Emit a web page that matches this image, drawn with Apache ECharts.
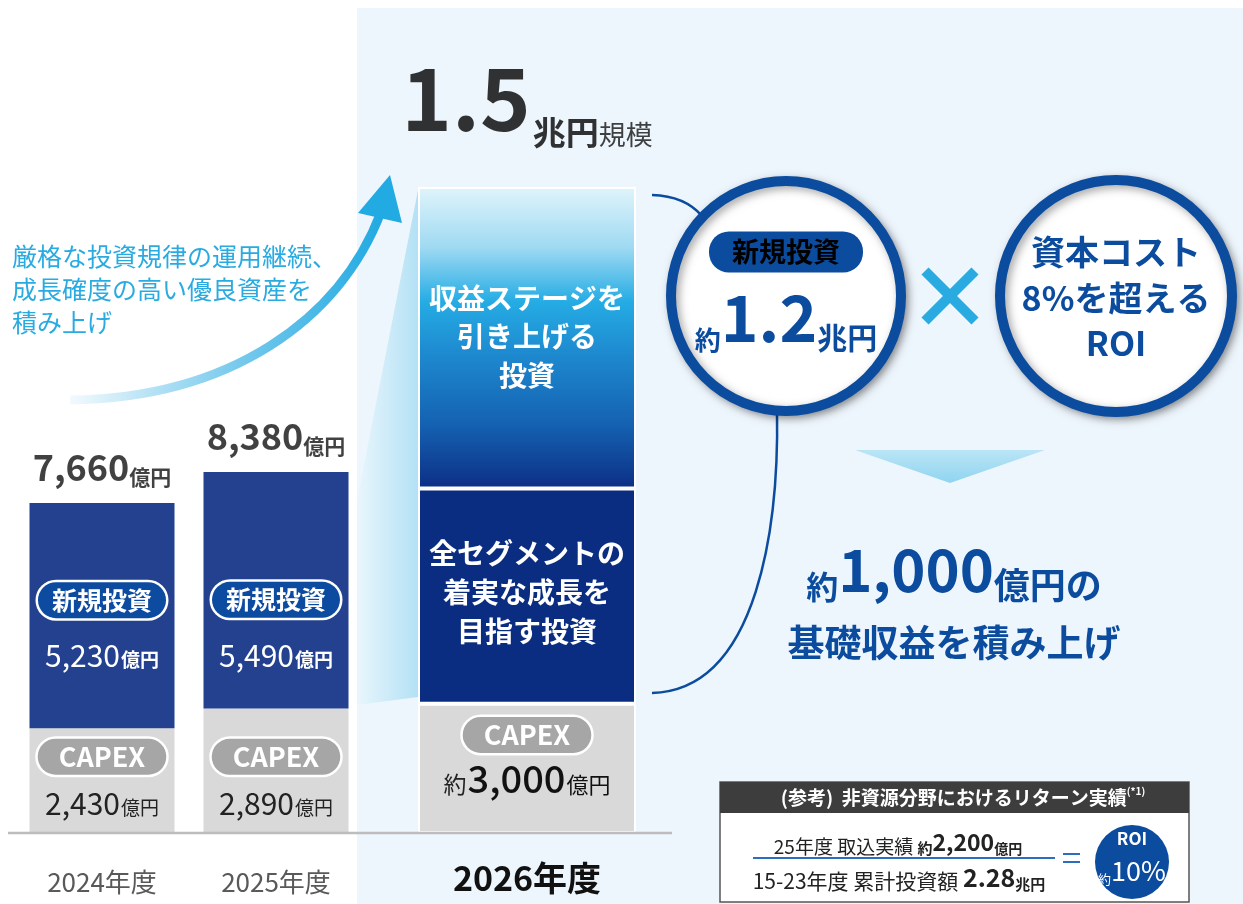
<!DOCTYPE html>
<html>
<head>
<meta charset="utf-8">
<script src="https://cdn.jsdelivr.net/npm/echarts@6/dist/echarts.min.js"></script>
<style>
  html, body { margin: 0; padding: 0; background: #fff; }
  #main { width: 1243px; height: 904px; }
</style>
</head>
<body>
<div id="main"></div>
<script>
// 年度
const years = ['2024年度', '2025年度'];
const year26 = ['2026年度'];
// CAPEX（億円）
const capex = [2430, 2890];
const capex26 = [3000];
// 新規投資（億円）
const newInvest = [5230, 5490];
// 2026年度 新規投資の内訳（億円）
const growthInvest26 = [5000]; // 全セグメントの着実な成長を目指す投資
const stageInvest26 = [7000];  // 収益ステージを引き上げる投資
const yMax = 15000;

const fontJP = '"Noto Sans CJK JP", "Noto Sans", sans-serif';
const navy = '#0b4c9f';
const fmt = v => v.toLocaleString('en-US');
const totals = capex.map((v, i) => v + newInvest[i]);
const totals26 = capex26.map((v, i) => v + growthInvest26[i] + stageInvest26[i]);

// ラベルの縦位置の微調整(px)
const newLabelOffset = [24, 49];
const capexLabelOffset = [7, 17];

// 小さい文字を大きい数字のベースラインに揃える
const baseLH = (lh, big, small) => lh - 2 * 0.38 * (big - small);
const basePad = (big, small) => [2 * 0.38 * (big - small), 0, 0, 1];

function pillStyle(bg, size, pad) {
  return {
    color: '#fff', fontSize: size, fontWeight: 'bold', fontFamily: fontJP,
    backgroundColor: bg, borderColor: '#fff', borderWidth: 2.5, borderRadius: 19,
    height: 32, lineHeight: 32, padding: [2, pad]
  };
}
function numRich(color, numSize, unitSize, lh, unitBold, numWeight) {
  return {
    num: { color: color, fontSize: numSize, fontFamily: fontJP, fontWeight: numWeight || 'normal', lineHeight: lh },
    unit: { color: color, fontSize: unitSize, fontFamily: fontJP, fontWeight: unitBold ? 'bold' : 'normal', padding: basePad(numSize, unitSize) }
  };
}

const chart = echarts.init(document.getElementById('main'));

const stageGradient = new echarts.graphic.LinearGradient(0, 0, 0, 1, [
  { offset: 0, color: '#e0f4fb' },
  { offset: 0.2, color: '#9fdaf2' },
  { offset: 0.38, color: '#25ace4' },
  { offset: 0.55, color: '#1e8ad0' },
  { offset: 0.78, color: '#1563b3' },
  { offset: 1, color: '#0c2f85' }
]);

let option = {
  animation: false,
  backgroundColor: '#fff',
  textStyle: { fontFamily: fontJP },
  grid: [
    { left: 15, width: 348, top: 187, height: 646 },
    { left: 418, width: 218, top: 187, height: 646 }
  ],
  xAxis: [
    {
      type: 'category', gridIndex: 0, data: years,
      axisLine: { show: false }, axisTick: { show: false },
      axisLabel: { color: '#595959', fontSize: 26, margin: 36, fontFamily: fontJP }
    },
    {
      type: 'category', gridIndex: 1, data: year26,
      axisLine: { show: false }, axisTick: { show: false },
      axisLabel: { color: '#111', fontSize: 34, fontWeight: 'bold', margin: 28, fontFamily: fontJP }
    }
  ],
  yAxis: [
    { type: 'value', gridIndex: 0, min: 0, max: yMax, show: false },
    { type: 'value', gridIndex: 1, min: 0, max: yMax, show: false }
  ],
  series: [
    // 2024・2025 CAPEX
    {
      type: 'bar', stack: 'a', xAxisIndex: 0, yAxisIndex: 0, barWidth: 145,
      itemStyle: { color: '#d9d9d9' },
      data: capex.map((v, i) => ({ value: v, label: { offset: [0, capexLabelOffset[i]] } })),
      label: {
        show: true, position: 'inside',
        formatter: p => '{pill|CAPEX}\n{num|' + fmt(p.value) + '}{unit|億円}',
        rich: Object.assign({ pill: pillStyle('#a6a6a6', 27, 21) }, numRich('#222', 30, 19, 62, false))
      }
    },
    // 2024・2025 新規投資
    {
      type: 'bar', stack: 'a', xAxisIndex: 0, yAxisIndex: 0, barWidth: 145,
      itemStyle: { color: '#23418f' },
      data: newInvest.map((v, i) => ({ value: v, label: { offset: [0, newLabelOffset[i]] } })),
      label: {
        show: true, position: 'inside',
        formatter: p => '{pill|新規投資}\n{num|' + fmt(p.value) + '}{unit|億円}',
        rich: Object.assign({ pill: pillStyle('#0d4ba0', 25, 14) }, numRich('#fff', 30, 19, 79, true))
      }
    },
    // 合計ラベル
    {
      type: 'scatter', xAxisIndex: 0, yAxisIndex: 0, data: totals,
      symbolSize: 1, itemStyle: { color: 'rgba(0,0,0,0)' }, silent: true,
      label: {
        show: true, position: 'top', distance: 15,
        formatter: p => '{n|' + fmt(p.value) + '}{u|億円}',
        rich: {
          n: { fontSize: 36, fontWeight: 'bold', color: '#111', fontFamily: fontJP, lineHeight: 40 },
          u: { fontSize: 21, fontWeight: 'bold', color: '#111', fontFamily: fontJP, verticalAlign: 'bottom', lineHeight: baseLH(40, 36, 21) }
        }
      }
    },
    // 2026 CAPEX
    {
      type: 'bar', stack: 'b', xAxisIndex: 1, yAxisIndex: 1, barWidth: 218,
      itemStyle: { color: '#d9d9d9', borderColor: '#fff', borderWidth: 2 },
      data: capex26,
      label: {
        show: true, position: 'inside', offset: [0, -6],
        formatter: p => '{pill|CAPEX}\n{pre|約}{num|' + fmt(p.value) + '}{unit|億円}',
        rich: Object.assign({
          pill: pillStyle('#a6a6a6', 27, 21),
          pre: { color: '#222', fontSize: 23, fontFamily: fontJP, padding: [2 * 0.38 * 15, 1, 0, 0] }
        }, numRich('#111', 38, 22, 55, false, 500))
      }
    },
    // 2026 全セグメントの着実な成長を目指す投資
    {
      type: 'bar', stack: 'b', xAxisIndex: 1, yAxisIndex: 1, barWidth: 218,
      itemStyle: { color: '#0a2d82', borderColor: '#fff', borderWidth: 2 },
      data: growthInvest26,
      label: {
        show: true, position: 'inside', offset: [0, -4],
        formatter: '全セグメントの\n着実な成長を\n目指す投資',
        color: '#fff', fontSize: 28, fontWeight: 'bold', lineHeight: 39, fontFamily: fontJP
      }
    },
    // 2026 収益ステージを引き上げる投資
    {
      type: 'bar', stack: 'b', xAxisIndex: 1, yAxisIndex: 1, barWidth: 218,
      itemStyle: { color: stageGradient, borderColor: '#fff', borderWidth: 2 },
      data: stageInvest26,
      label: {
        show: true, position: 'inside', offset: [0, -1],
        formatter: '収益ステージを\n引き上げる\n投資',
        color: '#fff', fontSize: 28, fontWeight: 'bold', lineHeight: 38.5, fontFamily: fontJP
      }
    },
    // 2026 合計
    {
      type: 'scatter', xAxisIndex: 1, yAxisIndex: 1, data: totals26,
      symbolSize: 1, itemStyle: { color: 'rgba(0,0,0,0)' }, silent: true,
      label: {
        show: true, position: 'top', distance: 38,
        formatter: p => '{n|' + (p.value / 10000) + '}{u|兆円}{r|規模}',
        rich: {
          n: { fontSize: 86, fontWeight: 'bold', color: '#000', fontFamily: fontJP, lineHeight: 100 },
          u: { fontSize: 33, fontWeight: 'bold', color: '#000', fontFamily: fontJP, verticalAlign: 'bottom', lineHeight: baseLH(100, 86, 33), padding: [0, 0, 0, 2] },
          r: { fontSize: 27, color: '#111', fontFamily: fontJP, verticalAlign: 'bottom', lineHeight: baseLH(100, 86, 27) }
        }
      }
    }
  ],
  graphic: {
    elements: [
      // 背景パネル
      { type: 'rect', z: -10, shape: { x: 357, y: 8, width: 886, height: 896 }, style: { fill: '#eef6fd' } },
      // 2025→2026 の帯
      {
        type: 'polygon', z: -5,
        shape: { points: [[357, 500], [418, 190], [418, 697], [357, 705]] },
        style: {
          fill: new echarts.graphic.LinearGradient(357, 0, 418, 0, [
            { offset: 0, color: '#e9f6fc' }, { offset: 1, color: '#b3e1f5' }
          ], true)
        }
      },
      // 基準線
      { type: 'line', z: 50, shape: { x1: 8, y1: 833, x2: 672, y2: 833 }, style: { stroke: '#bdbdbd', lineWidth: 2.5 } },
      // 上昇の矢印
      {
        type: 'bezierCurve', z: 5,
        shape: { x1: 70, y1: 400, cpx1: 230, cpy1: 398, cpx2: 340, cpy2: 320, x2: 381, y2: 212 },
        style: {
          fill: null, lineWidth: 9,
          stroke: new echarts.graphic.LinearGradient(70, 0, 381, 0, [
            { offset: 0, color: 'rgba(41,171,226,0.06)' },
            { offset: 0.5, color: 'rgba(41,171,226,0.6)' },
            { offset: 1, color: '#22aae2' }
          ], true)
        }
      },
      { type: 'polygon', z: 5, shape: { points: [[390, 175], [358, 213], [402, 223]] }, style: { fill: '#22aae2' } },
      {
        type: 'text', z: 5,
        style: {
          x: 12, y: 240, text: '厳格な投資規律の運用継続、\n成長確度の高い優良資産を\n積み上げ',
          fill: '#29abe2', fontSize: 25, fontFamily: fontJP, lineHeight: 33, verticalAlign: 'top'
        }
      },
      // つなぎの線
      {
        type: 'bezierCurve', z: 5,
        shape: { x1: 652, y1: 195, cpx1: 685, cpy1: 196, x2: 702, y2: 216 },
        style: { fill: null, stroke: navy, lineWidth: 2.5 }
      },
      {
        type: 'bezierCurve', z: 5,
        shape: { x1: 777, y1: 410, cpx1: 779, cpy1: 520, cpx2: 760, cpy2: 690, x2: 652, y2: 693 },
        style: { fill: null, stroke: navy, lineWidth: 2.5 }
      },
      // 円
      {
        type: 'circle', z: 10, shape: { cx: 786, cy: 296, r: 115 },
        style: { fill: '#fff', stroke: navy, lineWidth: 10, shadowBlur: 8, shadowColor: 'rgba(0,0,0,0.35)', shadowOffsetX: 3, shadowOffsetY: 3 }
      },
      {
        type: 'circle', z: 10, shape: { cx: 1116, cy: 296, r: 116 },
        style: { fill: '#fff', stroke: navy, lineWidth: 10, shadowBlur: 8, shadowColor: 'rgba(0,0,0,0.35)', shadowOffsetX: 3, shadowOffsetY: 3 }
      },
      {
        type: 'text', z: 12,
        style: {
          x: 786, y: 252, text: '{p|新規投資}', align: 'center', verticalAlign: 'middle',
          rich: { p: { backgroundColor: navy, color: '#fff', fontSize: 27, fontWeight: 'bold', fontFamily: fontJP, borderRadius: 20, padding: [5, 23], height: 31, lineHeight: 31 } }
        }
      },
      {
        type: 'text', z: 12,
        style: {
          x: 786, y: 318, text: '{a|約}{b|1.2}{c|兆円}', align: 'center', verticalAlign: 'middle',
          rich: {
            a: { fontSize: 26, fontWeight: 'bold', fill: navy, fontFamily: fontJP, verticalAlign: 'bottom', lineHeight: baseLH(70, 64, 26) },
            b: { fontSize: 64, fontWeight: 'bold', fill: navy, fontFamily: fontJP, lineHeight: 70 },
            c: { fontSize: 30, fontWeight: 'bold', fill: navy, fontFamily: fontJP, verticalAlign: 'bottom', lineHeight: baseLH(70, 64, 30) }
          }
        }
      },
      {
        type: 'text', z: 12,
        style: {
          x: 1116, y: 298, text: '資本コスト\n8%を超える\nROI', align: 'center', verticalAlign: 'middle',
          fill: navy, fontSize: 34, fontWeight: 'bold', fontFamily: fontJP, lineHeight: 45.5
        }
      },
      // ×
      { type: 'line', z: 12, shape: { x1: 925, y1: 271, x2: 975, y2: 321 }, style: { stroke: '#29abe2', lineWidth: 10 } },
      { type: 'line', z: 12, shape: { x1: 975, y1: 271, x2: 925, y2: 321 }, style: { stroke: '#29abe2', lineWidth: 10 } },
      // 下向き三角
      {
        type: 'polygon', z: 5, shape: { points: [[855, 450], [1045, 450], [950, 483]] },
        style: {
          fill: new echarts.graphic.LinearGradient(0, 450, 0, 483, [
            { offset: 0, color: '#bae5f6' }, { offset: 1, color: '#8fd4f0' }
          ], true)
        }
      },
      {
        type: 'text', z: 12,
        style: {
          x: 954, y: 570, text: '{a|約}{b|1,000}{c|億円の}', align: 'center', verticalAlign: 'middle',
          rich: {
            a: { fontSize: 32, fontWeight: 'bold', fill: navy, fontFamily: fontJP, verticalAlign: 'bottom', lineHeight: baseLH(66, 58, 32) },
            b: { fontSize: 58, fontWeight: 'bold', fill: navy, fontFamily: fontJP, lineHeight: 66 },
            c: { fontSize: 36, fontWeight: 'bold', fill: navy, fontFamily: fontJP, verticalAlign: 'bottom', lineHeight: baseLH(66, 58, 36) }
          }
        }
      },
      {
        type: 'text', z: 12,
        style: {
          x: 954, y: 643, text: '基礎収益を積み上げ', align: 'center', verticalAlign: 'middle',
          fill: navy, fontSize: 37, fontWeight: 'bold', fontFamily: fontJP
        }
      },
      // 参考ボックス
      { type: 'rect', z: 12, shape: { x: 720, y: 782, width: 469, height: 120 }, style: { fill: '#fff', stroke: '#555', lineWidth: 1.5 } },
      { type: 'rect', z: 13, shape: { x: 720, y: 782, width: 469, height: 31 }, style: { fill: '#3d3d3d' } },
      {
        type: 'text', z: 14,
        style: {
          x: 963, y: 798, text: '{a|(参考)  非資源分野におけるリターン実績}{s|(*1)}', align: 'center', verticalAlign: 'middle',
          rich: {
            a: { fontSize: 19, fontWeight: 'bold', fill: '#fff', fontFamily: fontJP, lineHeight: 24 },
            s: { fontSize: 10, fontWeight: 'bold', fill: '#fff', fontFamily: fontJP, verticalAlign: 'top', lineHeight: 14 }
          }
        }
      },
      {
        type: 'text', z: 14,
        style: {
          x: 898, y: 842, text: '{a|25年度 取込実績 }{b|約}{c|2,200}{d|億円}', align: 'center', verticalAlign: 'middle',
          rich: {
            a: { fontSize: 19, fill: '#222', fontFamily: fontJP, verticalAlign: 'bottom', lineHeight: baseLH(28, 23, 19) },
            b: { fontSize: 15, fontWeight: 'bold', fill: '#222', fontFamily: fontJP, verticalAlign: 'bottom', lineHeight: baseLH(28, 23, 15) },
            c: { fontSize: 23, fontWeight: 'bold', fill: '#222', fontFamily: fontJP, lineHeight: 28 },
            d: { fontSize: 14, fontWeight: 'bold', fill: '#222', fontFamily: fontJP, verticalAlign: 'bottom', lineHeight: baseLH(28, 23, 14) }
          }
        }
      },
      { type: 'line', z: 14, shape: { x1: 753, y1: 858, x2: 1055, y2: 858 }, style: { stroke: '#2a6ebf', lineWidth: 2 } },
      {
        type: 'text', z: 14,
        style: {
          x: 899, y: 877, text: '{a|15-23年度 累計投資額 }{c|2.28}{d|兆円}', align: 'center', verticalAlign: 'middle',
          rich: {
            a: { fontSize: 21, fill: '#222', fontFamily: fontJP, verticalAlign: 'bottom', lineHeight: baseLH(30, 25, 21) },
            c: { fontSize: 25, fontWeight: 'bold', fill: '#222', fontFamily: fontJP, lineHeight: 30 },
            d: { fontSize: 15, fontWeight: 'bold', fill: '#222', fontFamily: fontJP, verticalAlign: 'bottom', lineHeight: baseLH(30, 25, 15) }
          }
        }
      },
      { type: 'line', z: 14, shape: { x1: 1063, y1: 854, x2: 1080, y2: 854 }, style: { stroke: '#2a6ebf', lineWidth: 2 } },
      { type: 'line', z: 14, shape: { x1: 1063, y1: 862, x2: 1080, y2: 862 }, style: { stroke: '#2a6ebf', lineWidth: 2 } },
      { type: 'circle', z: 14, shape: { cx: 1132, cy: 862, r: 37 }, style: { fill: navy } },
      {
        type: 'text', z: 15,
        style: { x: 1132, y: 839, text: 'ROI', align: 'center', verticalAlign: 'middle', fill: '#fff', fontSize: 17, fontWeight: 'bold', fontFamily: fontJP }
      },
      {
        type: 'text', z: 15,
        style: {
          x: 1132, y: 871, text: '{a|約}{b|10%}', align: 'center', verticalAlign: 'middle',
          rich: {
            a: { fontSize: 13, fill: '#fff', fontFamily: fontJP, verticalAlign: 'bottom', lineHeight: baseLH(30, 27, 13) },
            b: { fontSize: 27, fill: '#fff', fontFamily: fontJP, lineHeight: 30 }
          }
        }
      }
    ]
  }
};

chart.setOption(option);
</script>
</body>
</html>
